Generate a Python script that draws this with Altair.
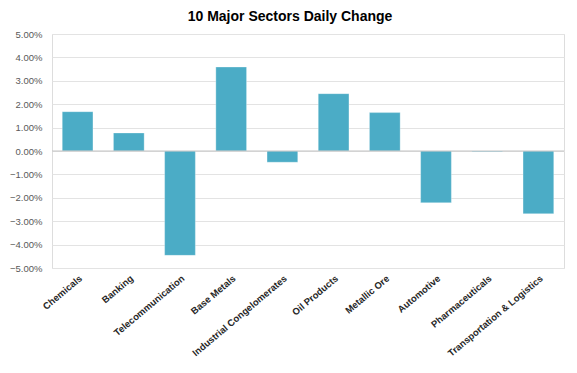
import altair as alt
import pandas as pd

sectors = ["Chemicals", "Banking", "Telecommunication", "Base Metals",
           "Industrial Congelomerates", "Oil Products", "Metallic Ore",
           "Automotive", "Pharmaceuticals", "Transportation & Logistics"]
changes = [0.0168, 0.0077, -0.0446, 0.0359, -0.0048, 0.0245, 0.0164,
           -0.0221, -0.0003, -0.0268]
y_ticks = [0.05, 0.04, 0.03, 0.02, 0.01, 0.0, -0.01, -0.02, -0.03, -0.04, -0.05]

df = pd.DataFrame({"sector": sectors, "change": changes})
zero_df = pd.DataFrame({"z": [0.0]})

x_enc = alt.X("sector:N", sort=sectors, title=None,
              scale=alt.Scale(paddingInner=0.4, paddingOuter=0.2),
              axis=alt.Axis(labelAngle=-40, labelAlign="right", labelBaseline="top",
                            labelFont="Liberation Sans", labelFontWeight="bold",
                            labelFontSize=9.5, labelColor="#262626", labelPadding=5,
                            labelOverlap=False, labelLimit=300,
                            ticks=False, domain=False, grid=False))
y_scale = alt.Scale(domain=[-0.05, 0.05], nice=False)
y_axis = alt.Axis(format=".2%", values=y_ticks, tickCount=11,
                  labelFont="Liberation Sans",
                  labelFontSize=9.5, labelColor="#595959", labelPadding=10,
                  labelOverlap=False, labelFlush=False,
                  ticks=False, domain=False, gridColor="#e3e3e3", gridWidth=1)

bars = alt.Chart(df).mark_bar(color="#4BACC6", stroke="#ffffff", strokeOpacity=0.5,
                              strokeWidth=0.6).encode(
    x=x_enc,
    y=alt.Y("change:Q", scale=y_scale, title=None, axis=y_axis),
)

zero = alt.Chart(zero_df).mark_rule(color="#c4c4c4", strokeWidth=1.2).encode(
    y=alt.Y("z:Q", scale=y_scale, title=None, axis=y_axis)
)

chart = alt.layer(bars, zero).properties(
    width=512, height=234,
    title=alt.TitleParams("10 Major Sectors Daily Change", font="Liberation Sans",
                          fontSize=14, fontWeight="bold", color="#000000",
                          anchor="middle", dx=-18, offset=5),
    autosize=alt.AutoSizeParams(type="none"),
    padding={"left": 44, "top": 26, "right": 5, "bottom": 97},
).configure_view(stroke=None).configure(background="#ffffff")

chart.save("out.html", embed_options={"renderer": "svg", "actions": False})
